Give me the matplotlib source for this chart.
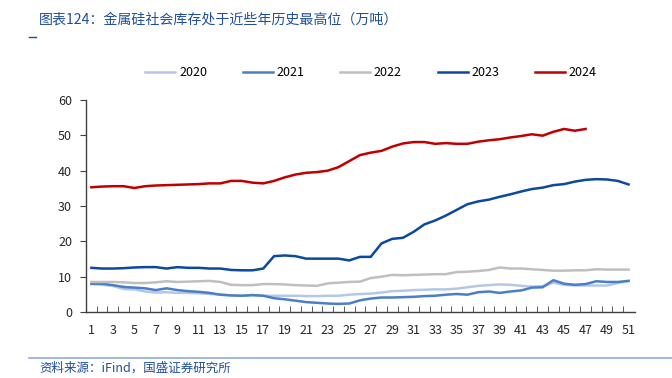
import matplotlib
matplotlib.use("Agg")
import matplotlib.pyplot as plt
from matplotlib.lines import Line2D

plt.rcParams['font.family'] = ['Noto Sans CJK SC', 'DejaVu Sans']

weeks = list(range(1, 52))
xtick_labels = [str(w) for w in range(1, 52, 2)]

s2020 = [7.9, 7.7, 7.4, 6.5, 6.4, 5.8, 5.5, 5.6, 5.4, 5.4, 5.3, 5.1, 4.9, 4.7, 4.6, 4.7, 4.6,
         4.6, 4.6, 4.6, 4.5, 4.5, 4.6, 4.6, 4.9, 5.1, 5.2, 5.5, 5.9, 6.0, 6.2, 6.3, 6.4, 6.4,
         6.6, 7.0, 7.4, 7.6, 7.8, 7.7, 7.4, 7.2, 7.3, 8.3, 7.7, 7.5, 7.5, 7.5, 7.5, 8.2, 8.8]
s2021 = [8.0, 8.0, 7.6, 7.1, 6.9, 6.7, 6.2, 6.7, 6.2, 5.9, 5.7, 5.4, 4.9, 4.7, 4.6, 4.8, 4.6,
         3.9, 3.6, 3.2, 2.8, 2.6, 2.4, 2.3, 2.4, 3.3, 3.8, 4.1, 4.1, 4.2, 4.3, 4.5, 4.6, 4.9,
         5.1, 4.9, 5.6, 5.8, 5.4, 5.8, 6.1, 6.9, 7.0, 9.0, 8.0, 7.7, 7.9, 8.7, 8.5, 8.5, 8.8]
s2022 = [8.5, 8.5, 8.5, 8.4, 8.2, 8.2, 8.4, 8.7, 8.5, 8.6, 8.7, 8.8, 8.5, 7.7, 7.6, 7.6, 7.9,
         7.9, 7.8, 7.6, 7.5, 7.4, 8.1, 8.3, 8.5, 8.6, 9.6, 10.0, 10.5, 10.4, 10.5, 10.6, 10.7,
         10.7, 11.3, 11.4, 11.6, 11.9, 12.6, 12.3, 12.3, 12.1, 11.9, 11.7, 11.7, 11.8, 11.8,
         12.1, 12.0, 12.0, 12.0]
s2023 = [12.5, 12.3, 12.3, 12.4, 12.6, 12.7, 12.7, 12.3, 12.7, 12.5, 12.5, 12.3, 12.3, 11.9,
         11.8, 11.8, 12.3, 15.8, 16.0, 15.8, 15.1, 15.1, 15.1, 15.1, 14.6, 15.6, 15.6, 19.4,
         20.7, 21.0, 22.7, 24.8, 25.9, 27.3, 28.9, 30.5, 31.3, 31.8, 32.6, 33.3, 34.1, 34.8,
         35.2, 35.9, 36.2, 36.9, 37.4, 37.6, 37.5, 37.1, 36.1]
s2024 = [35.3, 35.5, 35.6, 35.6, 35.1, 35.6, 35.8, 35.9, 36.0, 36.1, 36.2, 36.4, 36.4, 37.1,
         37.1, 36.6, 36.4, 37.1, 38.1, 38.9, 39.4, 39.6, 40.0, 41.0, 42.7, 44.4, 45.1, 45.6,
         46.8, 47.7, 48.1, 48.1, 47.6, 47.8, 47.6, 47.6, 48.2, 48.6, 48.9, 49.4, 49.8, 50.3,
         49.9, 51.0, 51.8, 51.3, 51.8]

series = [("2020", s2020, "#b4c7e7"),
          ("2021", s2021, "#4a7fc8"),
          ("2022", s2022, "#bfbfbf"),
          ("2023", s2023, "#0b48a0"),
          ("2024", s2024, "#c00000")]

fig = plt.figure(figsize=(6.72, 3.78), dpi=100)
ax = fig.add_axes([86/672, 1-312/378, (635-86)/672, (312-100)/378])

handles = []
for name, vals, col in series:
    ln, = ax.plot(weeks[:len(vals)], vals, color=col, lw=1.8, label=name,
                  solid_joinstyle='round')
    handles.append(ln)

ax.set_xlim(0.5, 51.6)
ax.set_ylim(0, 60)
ax.set_yticks(range(0, 61, 10))
ax.set_xticks(range(1, 52, 2))
ax.set_xticklabels(xtick_labels)
ax.set_xticks([w + 0.5 for w in range(0, 51)], minor=True)
ax.tick_params(axis='x', which='major', length=0, labelsize=9, colors='#262626', pad=9)
ax.tick_params(axis='x', which='minor', length=4, direction='in', color='#404040')
ax.tick_params(axis='y', length=4, direction='out', labelsize=9, colors='#262626',
               color='#404040', pad=6)
for s in ['top', 'right']:
    ax.spines[s].set_visible(False)
for s in ['left', 'bottom']:
    ax.spines[s].set_color('#404040')
    ax.spines[s].set_linewidth(1.0)

fig.legend(handles=handles, loc='center', bbox_to_anchor=(371/672, 1-73/378), ncol=5,
           frameon=False, fontsize=9, handlelength=2.4, handletextpad=0.3,
           columnspacing=2.85)

fig.text(39/672, 1-20/378, "图表124：金属硅社会库存处于近些年历史最高位（万吨）",
         fontsize=10.1, color='#1f4e9c', va='center', ha='left', style='italic')
fig.add_artist(Line2D([29/672, 36/672], [1-37/378, 1-37/378], color='#1f4e9c', lw=1))
fig.add_artist(Line2D([29/672, 672/672], [1-358/378, 1-358/378], color='#8faadc', lw=1.2))
fig.text(39/672, 1-368/378, "资料来源：iFind，国盛证券研究所", fontsize=9,
         color='#1f4e9c', va='center', ha='left', style='italic')

fig.savefig("out.png", dpi=100)
